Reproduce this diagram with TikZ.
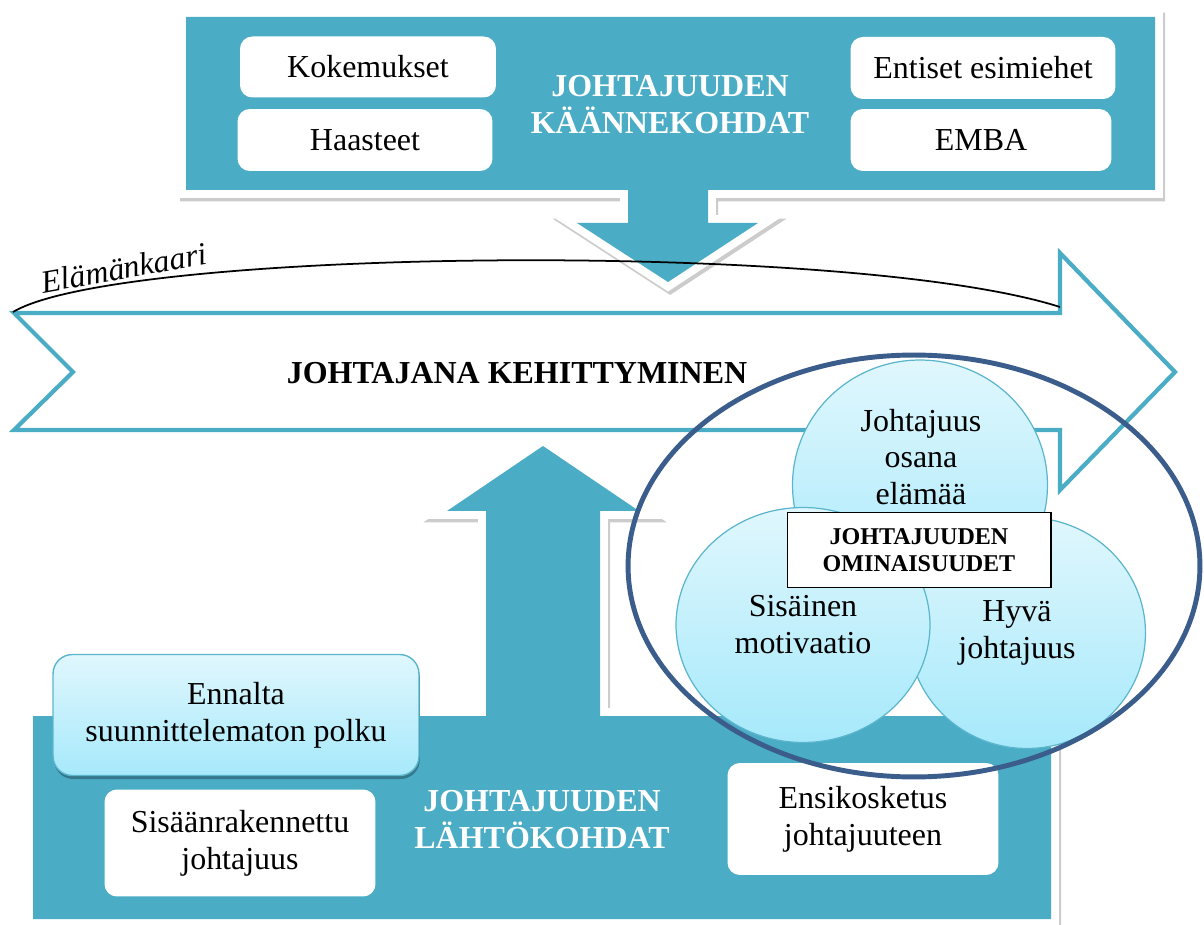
\documentclass[tikz,border=0pt]{standalone}
\usepackage{fontspec}
\setmainfont{Liberation Serif}[ItalicFont={Liberation Serif Italic}]
\usepackage{tikz}
\usetikzlibrary{positioning, shapes.geometric, calc}

\definecolor{aqua}{HTML}{4BACC6}
\definecolor{ringblue}{HTML}{3B5D8C}
\definecolor{bubtop}{HTML}{E0F7FD}
\definecolor{bubbot}{HTML}{A6E9FB}
\definecolor{bubline}{HTML}{5BB6CD}
\newcommand{\mainsize}{\fontsize{18.2}{21}\selectfont}

\tikzset{
  slab/.style={fill=aqua, line join=round,
    preaction={draw=black!20, line width=9pt, transform canvas={xshift=1.2pt, yshift=-2pt}},
    preaction={draw=white, line width=9pt}},
  card/.style={fill=white, rounded corners=7pt, font=\mainsize, align=center, inner sep=0pt},
  title/.style={text=white, font=\mainsize\bfseries, align=center},
  bubble/.style={ellipse, draw=bubline, line width=0.7pt, top color=bubtop, bottom color=bubbot,
    font=\mainsize, align=center, inner sep=0pt}
}

\begin{document}
\begin{tikzpicture}[x=0.02cm, y=-0.02cm]
    \useasboundingbox (0,0) rectangle (1204,925);
    % Big arrow
    \draw [aqua, line width=2.4pt, fill=white] (14,313) -- (1060,313) -- (1060,253) -- (1175,372)
        -- (1060,490) -- (1060,430) -- (14,430) -- (73,372) -- cycle;
    \node [font=\mainsize\bfseries] (kehitys) at (517,373) {JOHTAJANA KEHITTYMINEN};
    % Turning points
    \path [slab] (186,17) -- (1155,17) -- (1155,190) -- (708,190) -- (708,223) -- (758,223)
        -- (668,282) -- (577,223) -- (628,223) -- (628,190) -- (186,190) -- cycle;
    \node [card, minimum width=5.12cm, minimum height=1.22cm] (kokemus) at (368,67) {Kokemukset};
    \node [card, minimum width=5.1cm, minimum height=1.24cm] (haaste) at (365,140) {Haasteet};
    \node [card, minimum width=5.3cm, minimum height=1.24cm] (esimies) at (983,68) {Entiset esimiehet};
    \node [card, minimum width=5.22cm, minimum height=1.24cm] (emba) at (981,140) {EMBA};
    \node [title] (kaanne) at (670,105) {JOHTAJUUDEN\\KÄÄNNEKOHDAT};
    % Starting points
    \path [slab] (33,716) -- (486,716) -- (486,511) -- (447,511) -- (543,446) -- (639,511)
        -- (600,511) -- (600,716) -- (1051,716) -- (1051,919) -- (33,919) -- cycle;
    \node [card, rounded corners=11pt, draw=bubline, line width=0.8pt, top color=bubtop, bottom color=bubbot,
        minimum width=7.32cm, minimum height=2.42cm,
        preaction={fill=aqua!70!black, transform canvas={xshift=0.5pt, yshift=-2pt}}] (polku) at (236,715)
        {Ennalta\\suunnittelematon polku};
    \node [card, minimum width=5.42cm, minimum height=2.14cm] (sisaan) at (240,843) {Sisäänrakennettu\\johtajuus};
    \node [card, minimum width=5.42cm, minimum height=2.24cm] (ensi) at (863,819) {Ensikosketus\\johtajuuteen};
    \node [title] (lahto) at (542,820) {JOHTAJUUDEN\\LÄHTÖKOHDAT};
    % Life arc
    \coordinate (arcL) at (13,312);
    \coordinate (arcR) at (1060,307);
    \draw [line width=1pt] (arcL) .. controls (120,248) and (850,240) .. (arcR);
    \node [font=\mainsize\itshape, rotate=10] (kaari) at (124,268) {Elämänkaari};
    % Qualities
    \node [bubble, minimum width=5.1cm, minimum height=5cm] (elama) at (920,485) {};
    \node [bubble, minimum width=4.74cm, minimum height=4.62cm] (hyva) at (1027,633) {};
    \node [bubble, minimum width=5.08cm, minimum height=4.7cm] (motiv) at (803,625) {Sisäinen\\motivaatio};
    \node [font=\mainsize, align=center] (hyvatxt) at (1017,633) {Hyvä\\johtajuus};
    \node [font=\mainsize, align=center] (elamatxt) at (921,457) {Johtajuus\\osana\\elämää};
    \node [draw, fill=white, line width=0.6pt, minimum width=5.28cm, minimum height=1.5cm, align=center,
        font=\fontsize{13.7}{15.4}\selectfont\bfseries] (omin) at (919,550) {JOHTAJUUDEN\\OMINAISUUDET};
    \draw [ringblue, line width=2.8pt] (914,566) ellipse [x radius=5.72cm, y radius=4.22cm];
\end{tikzpicture}
\end{document}
